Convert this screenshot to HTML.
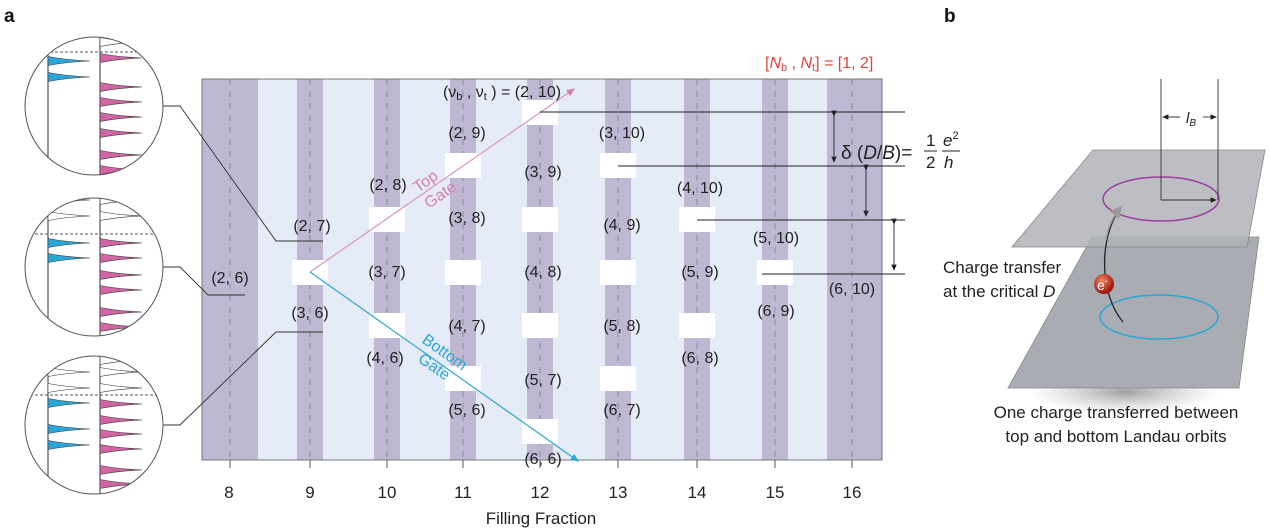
<!DOCTYPE html>
<html><head><meta charset="utf-8"><style>
html,body{margin:0;padding:0;background:#fff}
svg{display:block}
text{font-family:"Liberation Sans",sans-serif;fill:#222}
</style></head><body>
<svg width="1269" height="530" viewBox="0 0 1269 530" xmlns="http://www.w3.org/2000/svg">
<defs>
<path id="sp" d="M0,-4.5 C8,-3 20,-0.8 42,0 C20,0.8 8,3 0,4.5Z" stroke="#333" stroke-width="0.6"/>
<clipPath id="c1"><circle cx="94" cy="106" r="69"/></clipPath>
<clipPath id="c2"><circle cx="94" cy="267" r="69"/></clipPath>
<clipPath id="c3"><circle cx="94" cy="425" r="69"/></clipPath>
<marker id="ap" markerWidth="8" markerHeight="8" refX="6" refY="3" orient="auto"><path d="M0,0L7,3L0,6z" fill="#d77fb0"/></marker>
<marker id="ab" markerWidth="8" markerHeight="8" refX="6" refY="3" orient="auto"><path d="M0,0L7,3L0,6z" fill="#2aa7d6"/></marker>
<marker id="ak" markerWidth="8" markerHeight="8" refX="6" refY="3" orient="auto"><path d="M0,0L7,3L0,6z" fill="#222"/></marker>
<marker id="ag" markerWidth="10" markerHeight="10" refX="6" refY="4" orient="auto"><path d="M0,0L8,4L0,8z" fill="#999"/></marker>
<radialGradient id="sh" cx="0.5" cy="0.5" r="0.5"><stop offset="0" stop-color="#777" stop-opacity="0.7"/><stop offset="1" stop-color="#aaa" stop-opacity="0"/></radialGradient>
<radialGradient id="ball" cx="0.4" cy="0.35" r="0.6"><stop offset="0" stop-color="#f28a6a"/><stop offset="1" stop-color="#a0180c"/></radialGradient>
</defs>

<text x="4" y="22" font-size="19" font-weight="bold" style="fill:#111">a</text>
<text x="944" y="22" font-size="19" font-weight="bold" style="fill:#111">b</text>

<rect x="202" y="79" width="680" height="381" fill="#e6ecf7"/>
<g fill="#bfb8d3">
<rect x="202" y="79" width="56" height="381"/>
<rect x="297" y="79" width="26" height="381"/>
<rect x="374" y="79" width="26" height="381"/>
<rect x="450" y="79" width="26" height="381"/>
<rect x="527" y="79" width="26" height="381"/>
<rect x="605" y="79" width="26" height="381"/>
<rect x="684" y="79" width="26" height="381"/>
<rect x="762" y="79" width="26" height="381"/>
<rect x="827" y="79" width="55" height="381"/>
</g>
<g stroke="#8f88a3" stroke-width="1" stroke-dasharray="6,6">
<line x1="230" y1="79" x2="230" y2="460"/><line x1="310" y1="79" x2="310" y2="460"/>
<line x1="387" y1="79" x2="387" y2="460"/><line x1="463" y1="79" x2="463" y2="460"/>
<line x1="540" y1="79" x2="540" y2="460"/><line x1="618" y1="79" x2="618" y2="460"/>
<line x1="697" y1="79" x2="697" y2="460"/><line x1="775" y1="79" x2="775" y2="460"/>
<line x1="852" y1="79" x2="852" y2="460"/>
</g>
<g fill="#fff">
<rect x="292" y="260" width="36" height="25"/>
<rect x="369" y="207" width="36" height="25"/><rect x="369" y="313" width="36" height="25"/>
<rect x="445" y="153" width="36" height="25"/><rect x="445" y="260" width="36" height="25"/><rect x="445" y="366" width="36" height="25"/>
<rect x="522" y="100" width="36" height="25"/><rect x="522" y="207" width="36" height="25"/><rect x="522" y="313" width="36" height="25"/><rect x="522" y="419" width="36" height="25"/>
<rect x="600" y="153" width="36" height="25"/><rect x="600" y="260" width="36" height="25"/><rect x="600" y="366" width="36" height="25"/>
<rect x="679" y="207" width="36" height="25"/><rect x="679" y="313" width="36" height="25"/>
<rect x="757" y="260" width="36" height="25"/>
</g>
<rect x="202" y="79" width="680" height="381" fill="none" stroke="#777" stroke-width="1"/>

<line x1="310" y1="272" x2="574" y2="89" stroke="#d994bd" stroke-width="1.2" marker-end="url(#ap)"/>
<line x1="310" y1="272" x2="578" y2="461" stroke="#2aa7d6" stroke-width="1.2" marker-end="url(#ab)"/>
<text transform="translate(418,193) rotate(-35)" font-size="16" style="fill:#d77fb0">Top</text>
<text transform="translate(429,209) rotate(-35)" font-size="16" style="fill:#d77fb0">Gate</text>
<text transform="translate(421,342) rotate(35)" font-size="16" style="fill:#2aa7d6">Bottom</text>
<text transform="translate(417,361) rotate(35)" font-size="16" style="fill:#2aa7d6">Gate</text>

<g font-size="16" text-anchor="middle">
<text x="502" y="97">(ν<tspan font-size="11" dy="3">b</tspan><tspan dy="-3"> , ν</tspan><tspan font-size="11" dy="3">t</tspan><tspan dy="-3"> ) = (2, 10)</tspan></text>
<text x="467" y="138">(2, 9)</text><text x="622" y="138">(3, 10)</text>
<text x="388" y="190">(2, 8)</text><text x="543" y="177">(3, 9)</text><text x="700" y="193">(4, 10)</text>
<text x="312" y="231">(2, 7)</text><text x="467" y="223">(3, 8)</text><text x="622" y="230">(4, 9)</text><text x="776" y="243">(5, 10)</text>
<text x="230" y="283">(2, 6)</text><text x="387" y="277">(3, 7)</text><text x="543" y="277">(4, 8)</text><text x="700" y="277">(5, 9)</text><text x="852" y="294">(6, 10)</text>
<text x="310" y="318">(3, 6)</text><text x="467" y="331">(4, 7)</text><text x="622" y="331">(5, 8)</text><text x="776" y="316">(6, 9)</text>
<text x="385" y="363">(4, 6)</text><text x="543" y="385">(5, 7)</text><text x="700" y="363">(6, 8)</text>
<text x="467" y="415">(5, 6)</text><text x="622" y="415">(6, 7)</text>
<text x="543" y="464">(6, 6)</text>
</g>
<text x="765" y="68" font-size="16" style="fill:#e0413a">[<tspan font-style="italic">N</tspan><tspan font-size="11" dy="3">b</tspan><tspan dy="-3"> , </tspan><tspan font-style="italic">N</tspan><tspan font-size="11" dy="3">t</tspan><tspan dy="-3">] = [1, 2]</tspan></text>

<g stroke="#222" stroke-width="0.9">
<line x1="540" y1="112" x2="905" y2="112"/><line x1="618" y1="166" x2="905" y2="166"/>
<line x1="697" y1="220" x2="905" y2="220"/><line x1="762" y1="274" x2="905" y2="274"/>
<line x1="834" y1="116" x2="834" y2="162" marker-end="url(#ak)" marker-start="url(#ak)"/>
<line x1="866" y1="170" x2="866" y2="216" marker-end="url(#ak)" marker-start="url(#ak)"/>
<line x1="894" y1="224" x2="894" y2="270" marker-end="url(#ak)" marker-start="url(#ak)"/>
</g>
<text x="841" y="159" font-size="19">δ (<tspan font-style="italic">D</tspan>/<tspan font-style="italic">B</tspan>)=</text>
<text x="926" y="146" font-size="17">1</text><line x1="924" y1="151" x2="937" y2="151" stroke="#222"/>
<text x="926" y="168" font-size="17">2</text>
<text x="943" y="146" font-size="17" font-style="italic">e<tspan font-size="11" dy="-7" font-style="normal">2</tspan></text>
<line x1="942" y1="151" x2="960" y2="151" stroke="#222"/>
<text x="944" y="168" font-size="17" font-style="italic">h</text>

<g stroke="#555"><line x1="230" y1="460" x2="230" y2="468"/><line x1="310" y1="460" x2="310" y2="468"/><line x1="387" y1="460" x2="387" y2="468"/><line x1="463" y1="460" x2="463" y2="468"/><line x1="540" y1="460" x2="540" y2="468"/><line x1="618" y1="460" x2="618" y2="468"/><line x1="697" y1="460" x2="697" y2="468"/><line x1="775" y1="460" x2="775" y2="468"/><line x1="852" y1="460" x2="852" y2="468"/></g>
<g font-size="17" text-anchor="middle">
<text x="229" y="498">8</text><text x="310" y="498">9</text><text x="387" y="498">10</text><text x="463" y="498">11</text><text x="540" y="498">12</text><text x="618" y="498">13</text><text x="697" y="498">14</text><text x="775" y="498">15</text><text x="852" y="498">16</text>
<text x="541" y="524">Filling Fraction</text>
</g>

<g stroke="#333" stroke-width="0.9" fill="none">
<polyline points="163,106 180,106 276,241 323,241"/>
<polyline points="163,267 180,267 208,295 245,295"/>
<polyline points="163,425 180,425 276,332 323,332"/>
</g>

<g clip-path="url(#c1)">
<circle cx="94" cy="106" r="69" fill="#fff"/>
<line x1="48" y1="30" x2="48" y2="180" stroke="#333"/><line x1="100" y1="30" x2="100" y2="180" stroke="#333"/>
<line x1="25" y1="52" x2="165" y2="52" stroke="#555" stroke-dasharray="3,2"/>
<g fill="#fff"><use href="#sp" x="100" y="42"/></g>
<g fill="#2aa7d6"><use href="#sp" x="48" y="61"/><use href="#sp" x="48" y="77"/></g>
<g fill="#d266a4"><use href="#sp" x="100" y="58"/><use href="#sp" x="100" y="87"/><use href="#sp" x="100" y="102"/><use href="#sp" x="100" y="117"/><use href="#sp" x="100" y="133"/><use href="#sp" x="100" y="155"/><use href="#sp" x="100" y="170"/></g>
</g>
<circle cx="94" cy="106" r="69" fill="none" stroke="#555"/>
<g clip-path="url(#c2)">
<circle cx="94" cy="267" r="69" fill="#fff"/>
<line x1="48" y1="190" x2="48" y2="340" stroke="#333"/><line x1="100" y1="190" x2="100" y2="340" stroke="#333"/>
<line x1="25" y1="234" x2="165" y2="234" stroke="#555" stroke-dasharray="3,2"/>
<g fill="#fff"><use href="#sp" x="48" y="200"/><use href="#sp" x="48" y="216"/><use href="#sp" x="100" y="200"/><use href="#sp" x="100" y="216"/></g>
<g fill="#2aa7d6"><use href="#sp" x="48" y="243"/><use href="#sp" x="48" y="258"/></g>
<g fill="#d266a4"><use href="#sp" x="100" y="243"/><use href="#sp" x="100" y="258"/><use href="#sp" x="100" y="275"/><use href="#sp" x="100" y="290"/><use href="#sp" x="100" y="312"/><use href="#sp" x="100" y="327"/></g>
</g>
<circle cx="94" cy="267" r="69" fill="none" stroke="#555"/>
<g clip-path="url(#c3)">
<circle cx="94" cy="425" r="69" fill="#fff"/>
<line x1="48" y1="350" x2="48" y2="500" stroke="#333"/><line x1="100" y1="350" x2="100" y2="500" stroke="#333"/>
<line x1="25" y1="395" x2="165" y2="395" stroke="#555" stroke-dasharray="3,2"/>
<g fill="#fff"><use href="#sp" x="48" y="372"/><use href="#sp" x="48" y="388"/><use href="#sp" x="100" y="360"/><use href="#sp" x="100" y="372"/><use href="#sp" x="100" y="388"/></g>
<g fill="#2aa7d6"><use href="#sp" x="48" y="403"/><use href="#sp" x="48" y="429"/><use href="#sp" x="48" y="445"/></g>
<g fill="#d266a4"><use href="#sp" x="100" y="404"/><use href="#sp" x="100" y="420"/><use href="#sp" x="100" y="434"/><use href="#sp" x="100" y="449"/><use href="#sp" x="100" y="470"/><use href="#sp" x="100" y="484"/></g>
</g>
<circle cx="94" cy="425" r="69" fill="none" stroke="#555"/>

<ellipse cx="1125" cy="392" rx="95" ry="22" fill="url(#sh)"/>
<polygon points="1092,237 1259,237 1239,388 1008,388" fill="#a9acb2" stroke="#888" stroke-width="0.8"/>
<polygon points="1093,150 1265,150 1247,247 1012,247" fill="#b0b3b8" fill-opacity="0.85" stroke="#888" stroke-width="0.8"/>
<ellipse cx="1161" cy="199" rx="58" ry="22" fill="none" stroke="#9b3fa0" stroke-width="1.5"/>
<ellipse cx="1159" cy="317" rx="59" ry="22" fill="none" stroke="#2aa7d6" stroke-width="1.5"/>
<g stroke="#333" stroke-width="0.9">
<line x1="1161" y1="79" x2="1161" y2="200"/><line x1="1218" y1="79" x2="1218" y2="200"/>
<line x1="1161" y1="200" x2="1216" y2="200" marker-end="url(#ak)"/>
<line x1="1180" y1="117" x2="1163" y2="117" marker-end="url(#ak)"/>
<line x1="1203" y1="117" x2="1216" y2="117" marker-end="url(#ak)"/>
</g>
<text x="1186" y="123" font-size="15" font-style="italic">l<tspan font-size="10" dy="3">B</tspan></text>
<path d="M1123,322 C1100,295 1098,240 1120,208" fill="none" stroke="#222" stroke-width="1.3"/>
<path d="M1106,240 C1108,228 1112,218 1120,208" fill="none" stroke="#999" stroke-width="1.5" marker-end="url(#ag)"/>
<circle cx="1104" cy="284" r="10" fill="url(#ball)"/>
<text x="1097" y="290" font-size="14" style="fill:#fff">e<tspan font-size="9" dy="-6">-</tspan></text>
<g font-size="17">
<text x="943" y="273">Charge transfer</text>
<text x="943" y="297">at the critical <tspan font-style="italic">D</tspan></text>
<text x="1116" y="418" text-anchor="middle">One charge transferred between</text>
<text x="1116" y="442" text-anchor="middle">top and bottom Landau orbits</text>
</g>
</svg>
</body></html>
